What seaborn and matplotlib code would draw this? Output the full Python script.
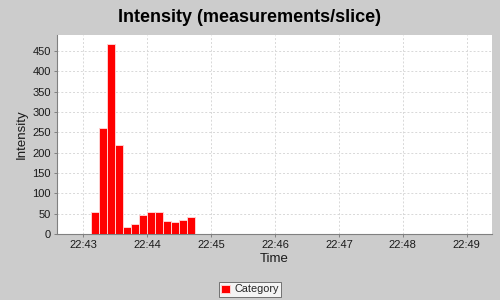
import matplotlib
matplotlib.use("Agg")
import matplotlib.pyplot as plt
import seaborn as sns
import pandas as pd

# ---- data ----
slice_starts = ["22:43:07.5", "22:43:15", "22:43:22.5", "22:43:30", "22:43:37.5",
                "22:43:45", "22:43:52.5", "22:44:00", "22:44:07.5", "22:44:15",
                "22:44:22.5", "22:44:30", "22:44:37.5"]
intensity = [53, 260, 466, 220, 18, 24, 47, 53, 53, 31, 29, 34, 41]
series_name = "Category"
tick_labels = ["22:43", "22:44", "22:45", "22:46", "22:47", "22:48", "22:49"]
title = "Intensity (measurements/slice)"
x_label = "Time"
y_label = "Intensity"
y_ticks = [0, 50, 100, 150, 200, 250, 300, 350, 400, 450]

def to_sec(s):
    parts = s.split(":")
    return int(parts[0]) * 3600 + int(parts[1]) * 60 + float(parts[2]) if len(parts) == 3 else int(parts[0]) * 3600 + int(parts[1]) * 60

ref = to_sec(tick_labels[0])
starts = [to_sec(s) - ref for s in slice_starts]
slice_len = starts[1] - starts[0]
centers = [s + slice_len / 2 for s in starts]
tick_pos = [to_sec(t) - ref for t in tick_labels]

df = pd.DataFrame({"t": centers, "v": intensity, "series": [series_name] * len(centers)})

sns.set_theme(style="white")
plt.rcParams["font.family"] = ["Liberation Sans", "DejaVu Sans"]

bg = "#cccccc"
fig = plt.figure(figsize=(5, 3), dpi=100, facecolor=bg)
ax = fig.add_axes([0.114, 0.22, 0.87, 0.663])
ax.set_facecolor("white")

sns.barplot(data=df, x="t", y="v", hue="series", palette={series_name: "#ff0000"},
            native_scale=True, width=1.0, dodge=False, edgecolor="#ffd0d0",
            linewidth=0.7, saturation=1, ax=ax, zorder=3)

ax.set_xlim(-24.7, 383.7)
ax.set_ylim(0, 489)
ax.set_xticks(tick_pos)
ax.set_xticklabels(tick_labels)
ax.set_yticks(y_ticks)
ax.grid(True, color="#d8d8d8", linestyle=(0, (2, 2)), linewidth=0.7, zorder=0)
ax.set_axisbelow(True)

for s in ["top", "right"]:
    ax.spines[s].set_visible(False)
for s in ["left", "bottom"]:
    ax.spines[s].set_color("#808080")
    ax.spines[s].set_linewidth(0.8)

ax.tick_params(axis="both", which="both", length=2.5, width=0.7, color="#808080",
               labelsize=8, labelcolor="#1a1a1a", pad=2, bottom=True, left=True)
ax.set_xlabel(x_label, fontsize=9.5, color="#1a1a1a", labelpad=2)
ax.set_ylabel(y_label, fontsize=9.5, color="#1a1a1a", labelpad=3)

fig.suptitle(title, x=0.5, y=0.943, va="center", fontsize=13, fontweight="bold", color="black")

handles, labels = ax.get_legend_handles_labels()
if ax.get_legend() is not None:
    ax.get_legend().remove()
leg = fig.legend(handles, labels, loc="center", bbox_to_anchor=(0.5, 0.035), ncol=1,
                 fontsize=7.8, frameon=True, fancybox=False, edgecolor="#555555",
                 facecolor="white", handlelength=0.8, handleheight=0.8,
                 handletextpad=0.4, borderpad=0.25, borderaxespad=0)
leg.get_frame().set_linewidth(0.7)

fig.savefig("out.png", dpi=100, facecolor=bg)
